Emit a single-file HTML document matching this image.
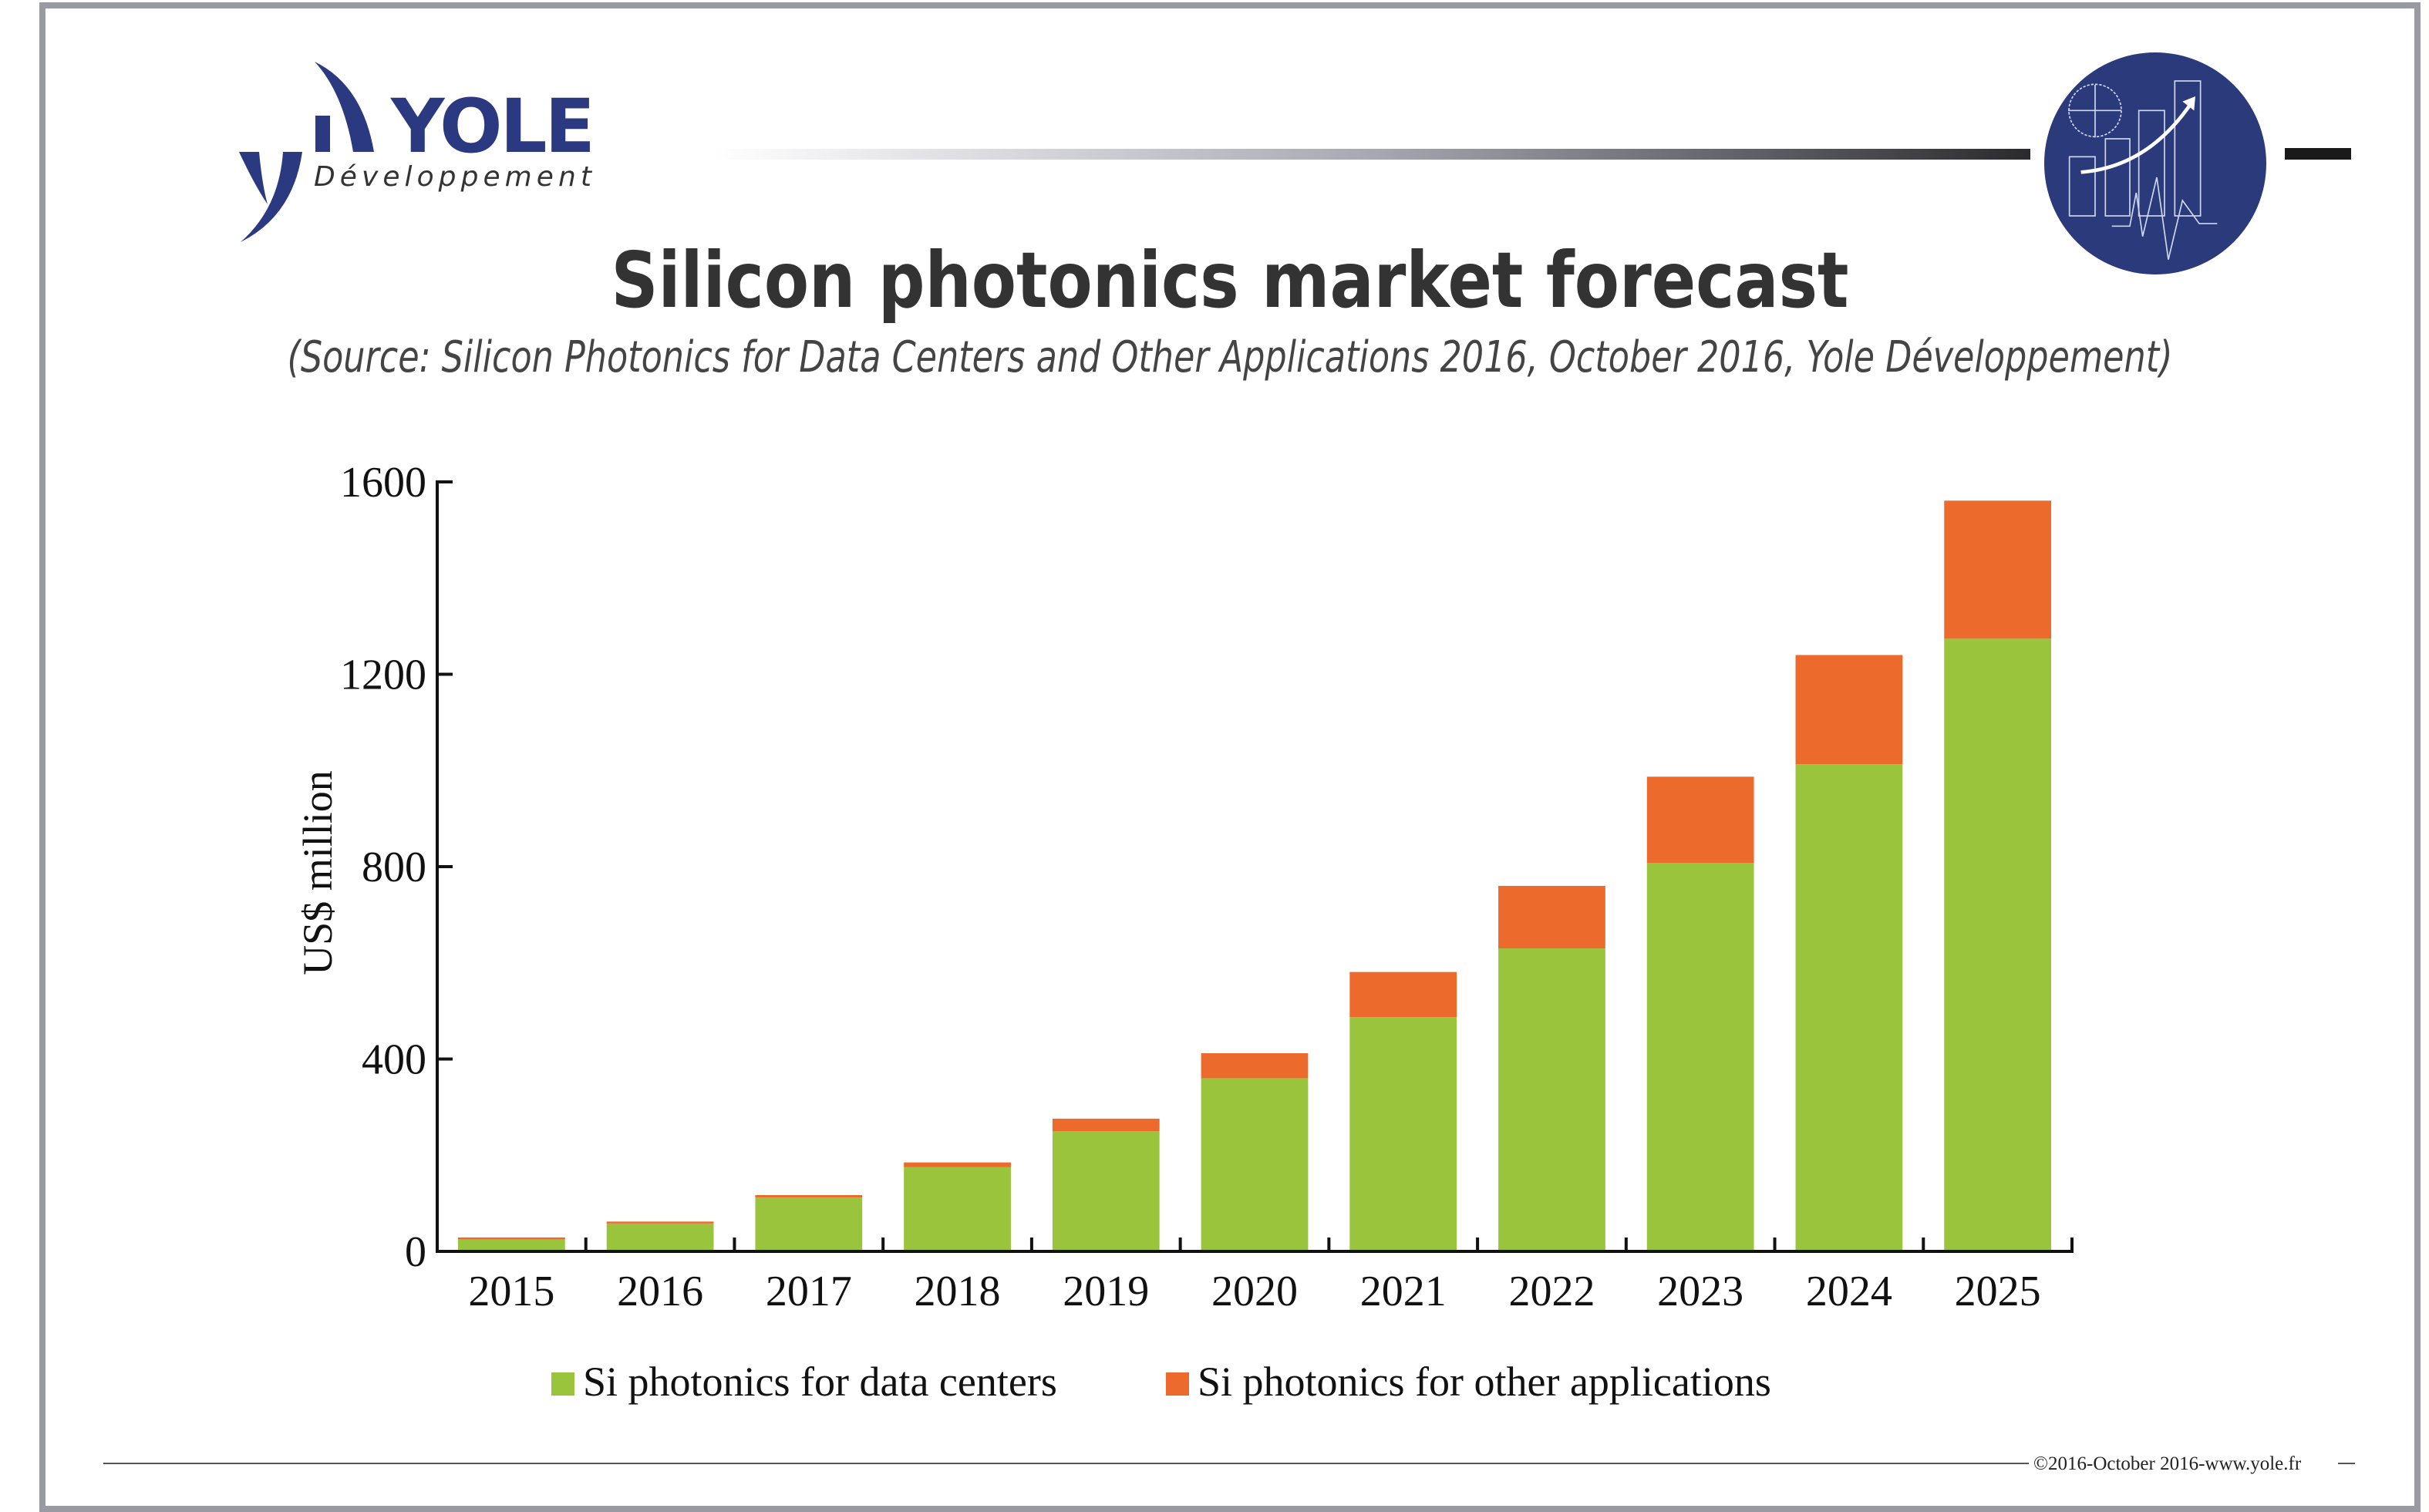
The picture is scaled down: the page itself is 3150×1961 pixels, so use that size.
<!DOCTYPE html>
<html><head><meta charset="utf-8"><style>
html,body{margin:0;padding:0;background:#fff;}
svg{display:block;}
</style></head><body>
<svg id="chart" width="3150" height="1961" viewBox="0 0 3150 1961" xmlns="http://www.w3.org/2000/svg">
<defs>
<linearGradient id="hg" x1="0" x2="1" y1="0" y2="0">
<stop offset="0" stop-color="#ffffff"/><stop offset="0.5" stop-color="#a8a8b4"/><stop offset="1" stop-color="#2a2a2e"/>
</linearGradient>
</defs>
<rect x="55" y="7" width="3080" height="1950" fill="#fff" stroke="#9a9aa2" stroke-width="8"/>

<g>
<path d="M408,80 Q470,110 485,197 L458,197 Q445,120 408,80 Z" fill="#2b3a80"/>
<rect x="409" y="150" width="19" height="47" fill="#2b3a80"/>
<path d="M310,197 L336,197 Q340,240 347,265 Q330,240 310,197 Z" fill="#2b3a80"/>
<path d="M367,197 L392,197 Q380,280 312,314 Q362,270 367,197 Z" fill="#2b3a80"/>
<text x="507" y="197" font-family="'DejaVu Sans','Liberation Sans',sans-serif" font-weight="bold" font-size="96" fill="#2b3a80" textLength="265" lengthAdjust="spacing">YOLE</text>
<text x="407" y="241" font-family="'DejaVu Sans','Liberation Sans',sans-serif" font-style="italic" font-size="36" fill="#333" textLength="360" lengthAdjust="spacing">Développement</text>
</g>

<rect x="925" y="193" width="1708" height="14" fill="url(#hg)"/>
<rect x="2963" y="192" width="86" height="15" fill="#1a1a1a"/>

<g>
<circle cx="2795" cy="212" r="144" fill="#2b3a7a"/>
<g transform="translate(2662,60) scale(0.3333)" fill="none" stroke="#cfd8f0" stroke-width="5">
<rect x="65" y="430" width="100" height="230"/>
<rect x="205" y="360" width="95" height="300"/>
<rect x="335" y="250" width="100" height="410"/>
<rect x="475" y="135" width="100" height="525"/>
<circle cx="165" cy="250" r="102" stroke-dasharray="10 6"/>
<line x1="60" y1="250" x2="267" y2="250"/><line x1="165" y1="150" x2="165" y2="355"/>
<path d="M230,700 L300,700 L325,570 L350,740 L405,510 L450,830 L505,600 L570,690 L640,690"/>
<path d="M110,490 Q370,470 540,220" stroke="#fff" stroke-width="14"/>
<path d="M505,215 L555,195 L550,250 Z" fill="#fff" stroke="none"/>
</g>
</g>

<text x="1595" y="398" text-anchor="middle" font-family="'DejaVu Sans','Liberation Sans',sans-serif" font-weight="bold" font-size="100" fill="#333" textLength="1605" lengthAdjust="spacingAndGlyphs">Silicon photonics market forecast</text>
<text x="1595" y="482" text-anchor="middle" font-family="'DejaVu Sans Condensed','DejaVu Sans','Liberation Sans',sans-serif" font-style="italic" font-size="56" fill="#444" textLength="2445" lengthAdjust="spacingAndGlyphs">(Source: Silicon Photonics for Data Centers and Other Applications 2016, October 2016, Yole Développement)</text>

<g id="plot"></g>

<line x1="134" y1="1898" x2="2631" y2="1898" stroke="#555" stroke-width="2"/>
<text x="2637" y="1906" font-family="'Liberation Serif',serif" font-size="25" fill="#222">©2016-October 2016-www.yole.fr</text>
<line x1="3032" y1="1898" x2="3054" y2="1898" stroke="#555" stroke-width="2"/>
</svg>
<script>
const categories = ["2015","2016","2017","2018","2019","2020","2021","2022","2023","2024","2025"];
const dataCenters = [25, 58, 112, 175, 250, 360, 487, 630, 808, 1013, 1274];
const otherApps = [4, 4, 5, 10, 26, 52, 94, 130, 179, 227, 287];
const yTicks = [0, 400, 800, 1200, 1600];
const seriesNames = ["Si photonics for data centers", "Si photonics for other applications"];

(function(){
const NS = "http://www.w3.org/2000/svg";
const g = document.getElementById('plot');
const x0 = 567, x1 = 2687, y0 = 1623, yTop = 625, yMax = 1600;
const band = (x1 - x0) / categories.length;
const yS = v => y0 - (v / yMax) * (y0 - yTop);
const xC = i => x0 + band * (i + 0.5);
const bw = band * 0.72;
function mk(tag, attrs){ const e = document.createElementNS(NS, tag); for (const k in attrs) e.setAttribute(k, attrs[k]); g.appendChild(e); return e; }

categories.forEach((c, i) => {
  const gT = yS(dataCenters[i]);
  const b1 = mk('rect', {x: xC(i) - bw/2, y: gT, width: bw, height: y0 - gT, fill: '#99c43c'});
  
  
  const oT = yS(dataCenters[i] + otherApps[i]);
  const b2 = mk('rect', {x: xC(i) - bw/2, y: oT, width: bw, height: gT - oT, fill: '#ec6a2c'});
  
  
  const t = mk('text', {x: xC(i), y: 1693, 'text-anchor': 'middle', 'font-family': "'Liberation Serif',serif", 'font-size': 56, fill: '#111'});
  t.textContent = c;
  
  
  if (i > 0) {
    const tk = mk('line', {x1: x0 + band*i, x2: x0 + band*i, y1: y0, y2: y0 - 18, stroke: '#111', 'stroke-width': 4});
    
    
  }
});
const ax = mk('path', {d: `M${x0+20},${yTop} L${x0},${yTop} L${x0},${y0} L${x1},${y0} L${x1},${y0-18}`, fill: 'none', stroke: '#111', 'stroke-width': 4});


yTicks.forEach(v => {
  const tk = mk('line', {x1: x0, x2: x0 + 20, y1: yS(v), y2: yS(v), stroke: '#111', 'stroke-width': 4});
  
  
  const t = mk('text', {x: 553, y: yS(v) + 19, 'text-anchor': 'end', 'font-family': "'Liberation Serif',serif", 'font-size': 56, fill: '#111'});
  t.textContent = v;
  
  
});
const yt = mk('text', {x: 0, y: 0, transform: 'translate(430,1132) rotate(-90)', 'text-anchor': 'middle', 'font-family': "'Liberation Serif',serif", 'font-size': 54, fill: '#111'});
yt.textContent = 'US$ million';



const legX = [715, 1512], legC = ['#99c43c', '#ec6a2c'];
seriesNames.forEach((n, i) => {
  const s = mk('rect', {x: legX[i], y: 1780, width: 30, height: 30, fill: legC[i]});
  
  
  const t = mk('text', {x: legX[i] + 41, y: 1810, 'font-family': "'Liberation Serif',serif", 'font-size': 54, fill: '#111'});
  t.textContent = n;
  
  
});
})();
</script>
</body></html>
